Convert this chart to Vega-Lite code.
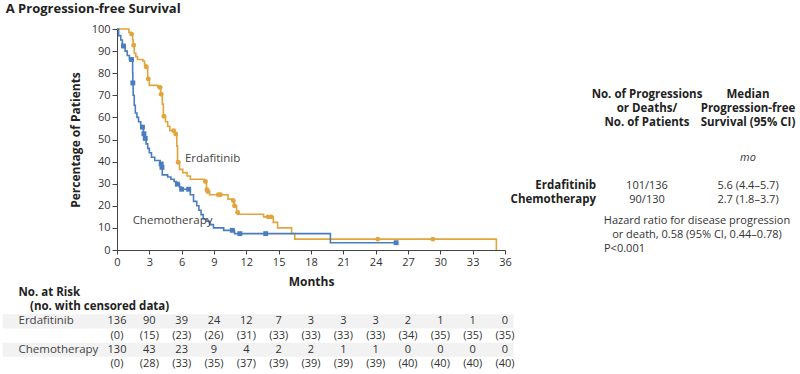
{
  "$schema": "https://vega.github.io/schema/vega-lite/v6.json",
  "background": "white",
  "padding": {"left": 2, "top": 3, "right": 5, "bottom": 2},
  "config": {
    "font": "Open Sans",
    "view": {"stroke": null},
    "axis": {"grid": false, "labelFont": "Open Sans", "titleFont": "Open Sans", "labelColor": "#333", "titleColor": "#222", "domainColor": "#444", "tickColor": "#444"}
  },
  "title": {"text": "A  Progression-free Survival", "anchor": "start", "fontSize": 13, "fontWeight": "bold", "font": "Open Sans", "color": "#222", "dx": 3, "offset": 7, "frame": "bounds"},
  "datasets": {
    "km": [
      {"group": "Erdafitinib", "month": 0, "pct": 100},
      {"group": "Erdafitinib", "month": 1.1, "pct": 98.5},
      {"group": "Erdafitinib", "month": 1.3, "pct": 97.7},
      {"group": "Erdafitinib", "month": 1.45, "pct": 95},
      {"group": "Erdafitinib", "month": 1.5, "pct": 92.7},
      {"group": "Erdafitinib", "month": 1.6, "pct": 89},
      {"group": "Erdafitinib", "month": 1.75, "pct": 87.5},
      {"group": "Erdafitinib", "month": 1.9, "pct": 86.2},
      {"group": "Erdafitinib", "month": 2.4, "pct": 85.5},
      {"group": "Erdafitinib", "month": 2.55, "pct": 84},
      {"group": "Erdafitinib", "month": 2.65, "pct": 82.9},
      {"group": "Erdafitinib", "month": 2.85, "pct": 77.4},
      {"group": "Erdafitinib", "month": 3.0, "pct": 74.5},
      {"group": "Erdafitinib", "month": 3.8, "pct": 73.5},
      {"group": "Erdafitinib", "month": 4.05, "pct": 70.5},
      {"group": "Erdafitinib", "month": 4.2, "pct": 66},
      {"group": "Erdafitinib", "month": 4.3, "pct": 60.5},
      {"group": "Erdafitinib", "month": 4.5, "pct": 58},
      {"group": "Erdafitinib", "month": 4.7, "pct": 56},
      {"group": "Erdafitinib", "month": 4.9, "pct": 54},
      {"group": "Erdafitinib", "month": 5.35, "pct": 52.5},
      {"group": "Erdafitinib", "month": 5.55, "pct": 47},
      {"group": "Erdafitinib", "month": 5.62, "pct": 39.7},
      {"group": "Erdafitinib", "month": 5.8, "pct": 36.5},
      {"group": "Erdafitinib", "month": 6.1, "pct": 35},
      {"group": "Erdafitinib", "month": 6.5, "pct": 33.5},
      {"group": "Erdafitinib", "month": 6.8, "pct": 32},
      {"group": "Erdafitinib", "month": 8.1, "pct": 31},
      {"group": "Erdafitinib", "month": 8.3, "pct": 27.3},
      {"group": "Erdafitinib", "month": 8.38, "pct": 26.5},
      {"group": "Erdafitinib", "month": 8.6, "pct": 25},
      {"group": "Erdafitinib", "month": 10.3, "pct": 23},
      {"group": "Erdafitinib", "month": 10.7, "pct": 22.3},
      {"group": "Erdafitinib", "month": 10.85, "pct": 20},
      {"group": "Erdafitinib", "month": 11.1, "pct": 17},
      {"group": "Erdafitinib", "month": 11.3, "pct": 16.2},
      {"group": "Erdafitinib", "month": 13.6, "pct": 15},
      {"group": "Erdafitinib", "month": 14.5, "pct": 12.5},
      {"group": "Erdafitinib", "month": 14.9, "pct": 10},
      {"group": "Erdafitinib", "month": 16.2, "pct": 7.5},
      {"group": "Erdafitinib", "month": 16.5, "pct": 4.9},
      {"group": "Erdafitinib", "month": 35.2, "pct": 0},
      {"group": "Chemotherapy", "month": 0, "pct": 100},
      {"group": "Chemotherapy", "month": 0.15, "pct": 97},
      {"group": "Chemotherapy", "month": 0.35, "pct": 95},
      {"group": "Chemotherapy", "month": 0.5, "pct": 92.3},
      {"group": "Chemotherapy", "month": 0.75, "pct": 90},
      {"group": "Chemotherapy", "month": 0.95, "pct": 88},
      {"group": "Chemotherapy", "month": 1.15, "pct": 86.2},
      {"group": "Chemotherapy", "month": 1.45, "pct": 80},
      {"group": "Chemotherapy", "month": 1.47, "pct": 75.6},
      {"group": "Chemotherapy", "month": 1.5, "pct": 70},
      {"group": "Chemotherapy", "month": 1.6, "pct": 65.5},
      {"group": "Chemotherapy", "month": 1.7, "pct": 62},
      {"group": "Chemotherapy", "month": 1.85, "pct": 60},
      {"group": "Chemotherapy", "month": 2.0, "pct": 58},
      {"group": "Chemotherapy", "month": 2.2, "pct": 55.6},
      {"group": "Chemotherapy", "month": 2.45, "pct": 52.6},
      {"group": "Chemotherapy", "month": 2.6, "pct": 50.5},
      {"group": "Chemotherapy", "month": 2.7, "pct": 48},
      {"group": "Chemotherapy", "month": 2.85, "pct": 46},
      {"group": "Chemotherapy", "month": 3.0, "pct": 44},
      {"group": "Chemotherapy", "month": 3.2, "pct": 42},
      {"group": "Chemotherapy", "month": 3.5, "pct": 40.5},
      {"group": "Chemotherapy", "month": 4.0, "pct": 38.9},
      {"group": "Chemotherapy", "month": 4.15, "pct": 37.4},
      {"group": "Chemotherapy", "month": 4.2, "pct": 34},
      {"group": "Chemotherapy", "month": 4.7, "pct": 33},
      {"group": "Chemotherapy", "month": 5.0, "pct": 32},
      {"group": "Chemotherapy", "month": 5.3, "pct": 31},
      {"group": "Chemotherapy", "month": 5.5, "pct": 29.8},
      {"group": "Chemotherapy", "month": 5.8, "pct": 28.5},
      {"group": "Chemotherapy", "month": 5.95, "pct": 27.5},
      {"group": "Chemotherapy", "month": 6.8, "pct": 25},
      {"group": "Chemotherapy", "month": 7.1, "pct": 22},
      {"group": "Chemotherapy", "month": 7.4, "pct": 20},
      {"group": "Chemotherapy", "month": 7.6, "pct": 18},
      {"group": "Chemotherapy", "month": 7.8, "pct": 16},
      {"group": "Chemotherapy", "month": 8.0, "pct": 14},
      {"group": "Chemotherapy", "month": 8.3, "pct": 13},
      {"group": "Chemotherapy", "month": 8.6, "pct": 11.5},
      {"group": "Chemotherapy", "month": 8.95, "pct": 10},
      {"group": "Chemotherapy", "month": 9.9, "pct": 8.9},
      {"group": "Chemotherapy", "month": 10.9, "pct": 7.4},
      {"group": "Chemotherapy", "month": 19.8, "pct": 3.3},
      {"group": "Chemotherapy", "month": 25.9, "pct": 3.3}
    ],
    "censor": [
      {"group": "Erdafitinib", "month": 1.35, "pct": 97.7},
      {"group": "Erdafitinib", "month": 1.55, "pct": 92.7},
      {"group": "Erdafitinib", "month": 2.7, "pct": 82.9},
      {"group": "Erdafitinib", "month": 2.9, "pct": 77.4},
      {"group": "Erdafitinib", "month": 4.0, "pct": 73.5},
      {"group": "Erdafitinib", "month": 4.1, "pct": 70.5},
      {"group": "Erdafitinib", "month": 4.35, "pct": 60.5},
      {"group": "Erdafitinib", "month": 5.25, "pct": 54},
      {"group": "Erdafitinib", "month": 5.45, "pct": 52.5},
      {"group": "Erdafitinib", "month": 5.67, "pct": 39.7},
      {"group": "Erdafitinib", "month": 8.2, "pct": 31},
      {"group": "Erdafitinib", "month": 8.35, "pct": 27.3},
      {"group": "Erdafitinib", "month": 8.42, "pct": 26.5},
      {"group": "Erdafitinib", "month": 9.4, "pct": 25},
      {"group": "Erdafitinib", "month": 9.6, "pct": 25},
      {"group": "Erdafitinib", "month": 10.8, "pct": 22.3},
      {"group": "Erdafitinib", "month": 10.9, "pct": 20},
      {"group": "Erdafitinib", "month": 11.2, "pct": 17},
      {"group": "Erdafitinib", "month": 14.0, "pct": 15},
      {"group": "Erdafitinib", "month": 14.3, "pct": 15},
      {"group": "Erdafitinib", "month": 24.2, "pct": 4.9},
      {"group": "Erdafitinib", "month": 29.3, "pct": 4.9},
      {"group": "Chemotherapy", "month": 0.6, "pct": 92.3},
      {"group": "Chemotherapy", "month": 1.35, "pct": 86.2},
      {"group": "Chemotherapy", "month": 1.47, "pct": 75.6},
      {"group": "Chemotherapy", "month": 2.36, "pct": 55.6},
      {"group": "Chemotherapy", "month": 2.5, "pct": 52.6},
      {"group": "Chemotherapy", "month": 2.62, "pct": 50.5},
      {"group": "Chemotherapy", "month": 4.1, "pct": 38.9},
      {"group": "Chemotherapy", "month": 4.17, "pct": 37.4},
      {"group": "Chemotherapy", "month": 5.6, "pct": 29.8},
      {"group": "Chemotherapy", "month": 6.0, "pct": 27.5},
      {"group": "Chemotherapy", "month": 6.65, "pct": 27.5},
      {"group": "Chemotherapy", "month": 10.7, "pct": 8.9},
      {"group": "Chemotherapy", "month": 11.4, "pct": 7.4},
      {"group": "Chemotherapy", "month": 13.8, "pct": 7.4},
      {"group": "Chemotherapy", "month": 25.9, "pct": 3.3}
    ],
    "curveLabels": [
      {"group": "Erdafitinib", "month": 6.3, "pct": 41},
      {"group": "Chemotherapy", "month": 1.45, "pct": 12.9}
    ],
    "annot": [
      {"kind": "header", "col": "events", "line": 0, "text": "No. of Progressions\nor Deaths/\nNo. of Patients"},
      {"kind": "header", "col": "median", "line": 0, "text": "Median\nProgression-free\nSurvival (95% CI)"},
      {"kind": "unit", "col": "median", "line": 4.5, "text": "mo"},
      {"kind": "rowlabel", "col": "label", "line": 6.5, "text": "Erdafitinib"},
      {"kind": "rowlabel", "col": "label", "line": 7.5, "text": "Chemotherapy"},
      {"kind": "value", "col": "events", "line": 6.5, "text": "101/136"},
      {"kind": "value", "col": "events", "line": 7.5, "text": "90/130"},
      {"kind": "value", "col": "median", "line": 6.5, "text": "5.6 (4.4–5.7)"},
      {"kind": "value", "col": "median", "line": 7.5, "text": "2.7 (1.8–3.7)"},
      {"kind": "hr", "col": "events", "line": 9, "text": "Hazard ratio for disease progression\nor death, 0.58 (95% CI, 0.44–0.78)"},
      {"kind": "p", "col": "events", "line": 11, "text": "P<0.001"}
    ],
    "riskBands": [
      {"line": "Erdafitinib", "from": -10.6, "to": 36.8},
      {"line": "Chemotherapy", "from": -10.6, "to": 36.8}
    ],
    "risk": [
      {"month": 0, "line": "Erdafitinib", "label": "136"},
      {"month": 3, "line": "Erdafitinib", "label": "90"},
      {"month": 6, "line": "Erdafitinib", "label": "39"},
      {"month": 9, "line": "Erdafitinib", "label": "24"},
      {"month": 12, "line": "Erdafitinib", "label": "12"},
      {"month": 15, "line": "Erdafitinib", "label": "7"},
      {"month": 18, "line": "Erdafitinib", "label": "3"},
      {"month": 21, "line": "Erdafitinib", "label": "3"},
      {"month": 24, "line": "Erdafitinib", "label": "3"},
      {"month": 27, "line": "Erdafitinib", "label": "2"},
      {"month": 30, "line": "Erdafitinib", "label": "1"},
      {"month": 33, "line": "Erdafitinib", "label": "1"},
      {"month": 36, "line": "Erdafitinib", "label": "0"},
      {"month": 0, "line": "Erdafitinib|censored", "label": "(0)"},
      {"month": 3, "line": "Erdafitinib|censored", "label": "(15)"},
      {"month": 6, "line": "Erdafitinib|censored", "label": "(23)"},
      {"month": 9, "line": "Erdafitinib|censored", "label": "(26)"},
      {"month": 12, "line": "Erdafitinib|censored", "label": "(31)"},
      {"month": 15, "line": "Erdafitinib|censored", "label": "(33)"},
      {"month": 18, "line": "Erdafitinib|censored", "label": "(33)"},
      {"month": 21, "line": "Erdafitinib|censored", "label": "(33)"},
      {"month": 24, "line": "Erdafitinib|censored", "label": "(33)"},
      {"month": 27, "line": "Erdafitinib|censored", "label": "(34)"},
      {"month": 30, "line": "Erdafitinib|censored", "label": "(35)"},
      {"month": 33, "line": "Erdafitinib|censored", "label": "(35)"},
      {"month": 36, "line": "Erdafitinib|censored", "label": "(35)"},
      {"month": 0, "line": "Chemotherapy", "label": "130"},
      {"month": 3, "line": "Chemotherapy", "label": "43"},
      {"month": 6, "line": "Chemotherapy", "label": "23"},
      {"month": 9, "line": "Chemotherapy", "label": "9"},
      {"month": 12, "line": "Chemotherapy", "label": "4"},
      {"month": 15, "line": "Chemotherapy", "label": "2"},
      {"month": 18, "line": "Chemotherapy", "label": "2"},
      {"month": 21, "line": "Chemotherapy", "label": "1"},
      {"month": 24, "line": "Chemotherapy", "label": "1"},
      {"month": 27, "line": "Chemotherapy", "label": "0"},
      {"month": 30, "line": "Chemotherapy", "label": "0"},
      {"month": 33, "line": "Chemotherapy", "label": "0"},
      {"month": 36, "line": "Chemotherapy", "label": "0"},
      {"month": 0, "line": "Chemotherapy|censored", "label": "(0)"},
      {"month": 3, "line": "Chemotherapy|censored", "label": "(28)"},
      {"month": 6, "line": "Chemotherapy|censored", "label": "(33)"},
      {"month": 9, "line": "Chemotherapy|censored", "label": "(35)"},
      {"month": 12, "line": "Chemotherapy|censored", "label": "(37)"},
      {"month": 15, "line": "Chemotherapy|censored", "label": "(39)"},
      {"month": 18, "line": "Chemotherapy|censored", "label": "(39)"},
      {"month": 21, "line": "Chemotherapy|censored", "label": "(39)"},
      {"month": 24, "line": "Chemotherapy|censored", "label": "(39)"},
      {"month": 27, "line": "Chemotherapy|censored", "label": "(40)"},
      {"month": 30, "line": "Chemotherapy|censored", "label": "(40)"},
      {"month": 33, "line": "Chemotherapy|censored", "label": "(40)"},
      {"month": 36, "line": "Chemotherapy|censored", "label": "(40)"}
    ]
  },
  "bounds": "flush",
  "columns": 2,
  "spacing": {"row": 36, "column": 41},
  "concat": [
    {
      "width": 388,
      "height": 221,
      "layer": [
        {
          "data": {"values": [{"ref": 50}]},
          "mark": {"type": "rule", "strokeDash": [4, 3], "color": "#444", "strokeWidth": 1},
          "encoding": {"y": {"field": "ref", "type": "quantitative"}}
        },
        {
          "data": {"name": "km"},
          "mark": {"type": "line", "interpolate": "step-after", "strokeWidth": 1.6},
          "encoding": {
            "x": {"field": "month", "type": "quantitative"},
            "y": {"field": "pct", "type": "quantitative"},
            "color": {"field": "group", "type": "nominal", "scale": {"domain": ["Erdafitinib", "Chemotherapy"], "range": ["#E2A43C", "#4A7CC0"]}, "legend": null},
            "detail": {"field": "group"}
          }
        },
        {
          "data": {"name": "censor"},
          "mark": {"type": "point", "filled": true, "opacity": 1, "size": 24},
          "encoding": {
            "x": {"field": "month", "type": "quantitative"},
            "y": {"field": "pct", "type": "quantitative"},
            "color": {"field": "group", "type": "nominal", "legend": null},
            "shape": {"field": "group", "type": "nominal", "scale": {"domain": ["Erdafitinib", "Chemotherapy"], "range": ["circle", "square"]}, "legend": null}
          }
        },
        {
          "data": {"name": "curveLabels"},
          "mark": {"type": "text", "align": "left", "baseline": "middle", "fontSize": 11.5, "color": "#444"},
          "encoding": {
            "x": {"field": "month", "type": "quantitative"},
            "y": {"field": "pct", "type": "quantitative"},
            "text": {"field": "group", "type": "nominal"}
          }
        }
      ],
      "encoding": {
        "x": {"field": "month", "type": "quantitative", "scale": {"domain": [0, 36], "nice": false}, "axis": {"values": [0, 3, 6, 9, 12, 15, 18, 21, 24, 27, 30, 33, 36], "title": "Months", "titleFontSize": 12, "titleFontWeight": "bold", "labelFontSize": 11, "tickSize": 4, "labelPadding": 2, "titlePadding": 9, "labelFlush": false}},
        "y": {"field": "pct", "type": "quantitative", "scale": {"domain": [0, 100], "nice": false}, "axis": {"values": [0, 10, 20, 30, 40, 50, 60, 70, 80, 90, 100], "title": "Percentage of Patients", "titleFontSize": 12, "titleFontWeight": "bold", "labelFontSize": 11, "tickSize": 5, "labelPadding": 2, "titlePadding": 9}}
      }
    },
    {
      "width": 202,
      "height": 221,
      "data": {"name": "annot"},
      "encoding": {
        "x": {"field": "col", "type": "nominal", "scale": {"type": "point", "domain": ["label", "events", "median"], "padding": 0}, "axis": null},
        "y": {"field": "line", "type": "quantitative", "scale": {"domain": [-4.68, 11.07], "reverse": true, "nice": false, "zero": false}, "axis": null},
        "text": {"field": "text", "type": "nominal"}
      },
      "layer": [
        {
          "transform": [{"filter": "datum.kind == 'header'"}],
          "mark": {"type": "text", "lineBreak": "\n", "lineHeight": 14, "fontSize": 11.5, "fontWeight": "bold", "align": "center", "baseline": "middle", "color": "#222"}
        },
        {
          "transform": [{"filter": "datum.kind == 'unit'"}],
          "mark": {"type": "text", "fontSize": 11, "fontStyle": "italic", "align": "center", "baseline": "middle", "color": "#333"}
        },
        {
          "transform": [{"filter": "datum.kind == 'rowlabel'"}],
          "mark": {"type": "text", "fontSize": 11.5, "fontWeight": "bold", "align": "right", "dx": 50, "baseline": "middle", "color": "#222"}
        },
        {
          "transform": [{"filter": "datum.kind == 'value'"}],
          "mark": {"type": "text", "fontSize": 11, "align": "center", "baseline": "middle", "color": "#333"}
        },
        {
          "transform": [{"filter": "datum.kind == 'hr'"}],
          "mark": {"type": "text", "lineBreak": "\n", "lineHeight": 14, "fontSize": 11, "align": "center", "dx": 50, "baseline": "middle", "color": "#333"}
        },
        {
          "transform": [{"filter": "datum.kind == 'p'"}],
          "mark": {"type": "text", "fontSize": 11, "align": "left", "dx": -43, "baseline": "middle", "color": "#333"}
        }
      ]
    },
    {
      "width": 388,
      "height": 85,
      "encoding": {
        "y": {
          "field": "line", "type": "nominal",
          "scale": {"type": "band", "domain": ["No. at Risk", "(no. with censored data)", "Erdafitinib", "Erdafitinib|censored", "Chemotherapy", "Chemotherapy|censored"], "paddingInner": 0, "paddingOuter": 0},
          "axis": {
            "title": null, "domain": false, "ticks": false, "tickSize": 0, "labelAlign": "left", "labelPadding": 99, "labelFontSize": 11.5, "labelBaseline": "middle", "zindex": 1,
            "labelExpr": "indexof(datum.value, '|') >= 0 ? '' : (datum.value == '(no. with censored data)' ? '\u200b\u2003' + datum.value : datum.value)",
            "labelFontWeight": {"condition": {"test": "datum.value == 'No. at Risk' || datum.value == '(no. with censored data)'", "value": "bold"}, "value": "normal"},
            "labelColor": {"condition": {"test": "datum.value == 'No. at Risk' || datum.value == '(no. with censored data)'", "value": "#222"}, "value": "#444"}
          }
        }
      },
      "layer": [
        {
          "data": {"name": "riskBands"},
          "mark": {"type": "bar", "color": "#f2f2f2", "clip": false},
          "encoding": {
            "x": {"field": "from", "type": "quantitative", "scale": {"domain": [0, 36], "nice": false, "zero": false}, "axis": null},
            "x2": {"field": "to"}
          }
        },
        {
          "data": {"name": "risk"},
          "mark": {"type": "text", "fontSize": 11, "color": "#333", "baseline": "middle"},
          "encoding": {
            "x": {"field": "month", "type": "quantitative", "scale": {"domain": [0, 36], "nice": false, "zero": false}, "axis": null},
            "text": {"field": "label", "type": "nominal"}
          }
        }
      ]
    }
  ]
}
